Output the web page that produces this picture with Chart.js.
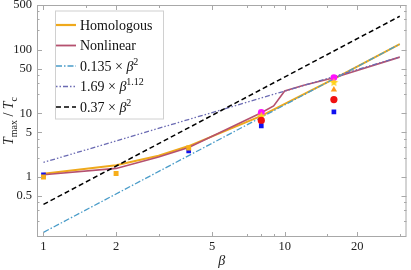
<!DOCTYPE html>
<html lang="en">
<head>
<meta charset="UTF-8">
<title>Tmax / Tc against beta</title>
<script src="https://cdn.jsdelivr.net/npm/chart.js@4.4.1/dist/chart.umd.min.js"></script>
<style>
  html, body { margin: 0; padding: 0; background: #fff; }
</style>
</head>
<body>
<canvas id="myChart" width="411" height="270"></canvas>
<script>
// curves (beta, Tmax/Tc)
var homBeta = [1, 2, 3, 4, 8, 16, 30];
var homVal  = [1.12, 1.52, 2.15, 3.05, 9.1, 34.5, 122];
var nonBeta = [1, 2, 3, 4, 8, 9, 10, 12, 16, 30];
var nonVal  = [1.08, 1.36, 2.05, 2.9, 10.2, 13, 22.4, 27.5, 36, 76];

// power-law fits are straight on log-log, so just the two ends
var fitBeta = [1, 30];
var fitA = [0.135, 121.5];
var fitB = [1.69, 76.2];
var fitC = [0.37, 333];

// simulation points
var magBeta = [8, 16],        magVal = [10.3, 36.3];
var starBeta = [8, 16],       starVal = [9.0, 30.3];
var triBeta = [16],           triVal = [23.5];
var redBeta = [8, 16],        redVal = [7.7, 16.4];
var blueBeta = [1, 4, 8, 16], blueVal = [1.08, 2.56, 6.3, 10.5];
var sqBeta = [1, 2, 4],       sqVal = [1.0, 1.13, 2.85];

var xTicks = [1, 2, 5, 10, 20];
var xMinor = [1.5, 3, 7, 8, 9, 15, 30];
var yTicks = [0.5, 1, 5, 10, 50, 100, 500];
var yMinor = [0.2, 0.3, 0.4, 2, 3, 4, 20, 30, 40, 200, 300, 400];

function pts(bs, vs) {
    return bs.map(function (b, i) { return { x: b, y: vs[i] }; });
}

// filled star for the pointStyle
function starImg(r, color) {
    var c = document.createElement('canvas');
    c.width = c.height = 2 * r + 2;
    var g = c.getContext('2d');
    g.beginPath();
    for (var i = 0; i < 10; i++) {
        var a = -Math.PI / 2 + i * Math.PI / 5;
        var rr = i % 2 ? r * 0.45 : r;
        g.lineTo(r + 1 + rr * Math.cos(a), r + 1 + rr * Math.sin(a));
    }
    g.closePath();
    g.fillStyle = color;
    g.fill();
    return c;
}

var serif = '"Liberation Serif", "DejaVu Serif", serif';

var legendItems = [
    { color: '#EFA91C', width: 2.2, dash: [], runs: [{ t: 'Homologous' }] },
    { color: '#B5516F', width: 1.8, dash: [], runs: [{ t: 'Nonlinear' }] },
    { color: '#4A9CC9', width: 1.5, dash: [6, 2, 1.5, 2], runs: [{ t: '0.135 × ' }, { t: 'β', it: true }, { t: '2', sup: true }] },
    { color: '#6B6BB3', width: 1.5, dash: [1.5, 2, 1.5, 2, 5, 2], runs: [{ t: '1.69 × ' }, { t: 'β', it: true }, { t: '1.12', sup: true }] },
    { color: '#000000', width: 1.5, dash: [5, 3], runs: [{ t: '0.37 × ' }, { t: 'β', it: true }, { t: '2', sup: true }] }
];

function runFont(r, size) {
    if (r.sup || r.sub) return (r.it ? 'italic ' : '') + Math.round(size * 0.7) + 'px ' + serif;
    return (r.it ? 'italic ' : '') + size + 'px ' + serif;
}

function drawRuns(ctx, runs, x, y, size, center) {
    var w = 0;
    runs.forEach(function (r) { ctx.font = runFont(r, size); w += ctx.measureText(r.t).width; });
    var cx = center ? x - w / 2 : x;
    runs.forEach(function (r) {
        ctx.font = runFont(r, size);
        var dy = r.sup ? -size * 0.42 : (r.sub ? size * 0.25 : 0);
        ctx.fillText(r.t, cx, y + dy);
        cx += ctx.measureText(r.t).width;
    });
}

var framePlugin = {
    id: 'frame',
    afterDatasetsDraw: function (chart) {
        var ctx = chart.ctx, a = chart.chartArea;
        var sx = chart.scales.x, sy = chart.scales.y;
        ctx.save();

        // frame
        ctx.strokeStyle = '#a8a8a8';
        ctx.lineWidth = 1;
        ctx.strokeRect(a.left + 0.5, a.top + 0.5, a.right - a.left - 1, a.bottom - a.top - 1);

        // inward ticks, all four sides
        function tickX(v, len) {
            var px = Math.round(sx.getPixelForValue(v)) + 0.5;
            ctx.beginPath();
            ctx.moveTo(px, a.bottom); ctx.lineTo(px, a.bottom - len);
            ctx.moveTo(px, a.top); ctx.lineTo(px, a.top + len);
            ctx.stroke();
        }
        function tickY(v, len) {
            var py = Math.round(sy.getPixelForValue(v)) + 0.5;
            ctx.beginPath();
            ctx.moveTo(a.left, py); ctx.lineTo(a.left + len, py);
            ctx.moveTo(a.right, py); ctx.lineTo(a.right - len, py);
            ctx.stroke();
        }
        xTicks.forEach(function (v) { tickX(v, 5); });
        xMinor.forEach(function (v) { tickX(v, 3); });
        yTicks.forEach(function (v) { tickY(v, 5); });
        yMinor.forEach(function (v) { tickY(v, 2.5); });

        // tick labels
        ctx.fillStyle = '#222';
        ctx.font = '12.5px ' + serif;
        ctx.textAlign = 'center';
        ctx.textBaseline = 'middle';
        xTicks.forEach(function (v) { ctx.fillText(String(v), sx.getPixelForValue(v), a.bottom + 10); });
        ctx.textAlign = 'right';
        yTicks.forEach(function (v) { ctx.fillText(String(v), a.left - 5, sy.getPixelForValue(v)); });

        // axis titles
        ctx.textAlign = 'left';
        ctx.textBaseline = 'alphabetic';
        drawRuns(ctx, [{ t: 'β', it: true }], (a.left + a.right) / 2, 265, 14, true);
        ctx.translate(13, (a.top + a.bottom) / 2);
        ctx.rotate(-Math.PI / 2);
        drawRuns(ctx, [{ t: 'T', it: true }, { t: 'max', sub: true }, { t: ' / ' }, { t: 'T', it: true }, { t: 'c', sub: true }], 0, 0, 14, true);
        ctx.restore();

        // legend
        ctx.save();
        var lx = 55, ly = 10.5, lw = 108, lh = 108;
        ctx.fillStyle = '#fff';
        ctx.fillRect(lx, ly, lw, lh);
        ctx.strokeStyle = '#d0d0d0';
        ctx.lineWidth = 1;
        ctx.strokeRect(lx + 0.5, ly + 0.5, lw, lh);
        legendItems.forEach(function (it, i) {
            var y = 25 + i * 20.5;
            ctx.strokeStyle = it.color;
            ctx.lineWidth = it.width;
            ctx.setLineDash(it.dash);
            ctx.beginPath();
            ctx.moveTo(56, y); ctx.lineTo(76, y);
            ctx.stroke();
            ctx.setLineDash([]);
            ctx.fillStyle = '#111';
            drawRuns(ctx, it.runs, 80, y + 4.5, 14, false);
        });
        ctx.restore();
    }
};

function lineSet(bs, vs, color, width, dash) {
    return {
        data: pts(bs, vs), showLine: true, borderColor: color, borderWidth: width,
        borderDash: dash, pointRadius: 0, fill: false, order: 2
    };
}
function markSet(bs, vs, color, style, r) {
    return {
        data: pts(bs, vs), showLine: false, pointStyle: style, pointRadius: r,
        backgroundColor: color, borderColor: color, borderWidth: 0, order: 1
    };
}

var ctx = document.getElementById('myChart').getContext('2d');
new Chart(ctx, {
    type: 'scatter',
    data: {
        datasets: [
            lineSet(fitBeta, fitC, '#000000', 1.5, [5, 3]),
            lineSet(fitBeta, fitB, '#6B6BB3', 1.3, [1.5, 2, 1.5, 2, 5, 2]),
            lineSet(fitBeta, fitA, '#4A9CC9', 1.3, [6, 2, 1.5, 2]),
            lineSet(nonBeta, nonVal, '#B5516F', 1.6, []),
            lineSet(homBeta, homVal, '#EFA91C', 2, []),
            markSet(sqBeta, sqVal, '#F7AE1A', 'rect', 3.5),
            markSet(blueBeta, blueVal, '#1010F0', 'rect', 3.3),
            markSet(redBeta, redVal, '#F01010', 'circle', 3.6),
            markSet(triBeta, triVal, '#FF9A1A', 'triangle', 3.6),
            markSet(starBeta, starVal, '#FFD21A', starImg(4.5, '#FFD21A'), 4.5),
            markSet(magBeta, magVal, '#FF10FF', 'circle', 3.4)
        ]
    },
    options: {
        responsive: false,
        animation: false,
        devicePixelRatio: 1,
        layout: { padding: { left: 37, right: 1, top: 5, bottom: 33 } },
        plugins: { legend: { display: false }, tooltip: { enabled: false } },
        scales: {
            x: { type: 'logarithmic', min: 0.94, max: 32, display: false },
            y: { type: 'logarithmic', min: 0.114, max: 500, display: false }
        }
    },
    plugins: [framePlugin]
});
</script>
</body>
</html>
